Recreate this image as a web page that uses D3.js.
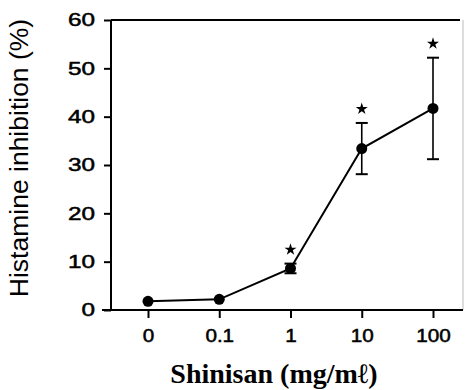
<!DOCTYPE html>
<html>
<head>
<meta charset="utf-8">
<script src="https://cdn.jsdelivr.net/npm/d3@7"></script>
<style>
  body { margin: 0; background: #fff; }
  svg { display: block; }
</style>
</head>
<body>
<div id="chart"></div>
<script>
// dose levels (mg/ml) and histamine inhibition (%)
let doses = ["0", "0.1", "1", "10", "100"];
let means = [1.8, 2.2, 8.6, 33.4, 41.7];
let errs = [0, 0, 1.0, 5.3, 10.5];
let signif = [false, false, true, true, true];
let yTicks = [0, 10, 20, 30, 40, 50, 60];

let width = 466, height = 390;
let plotLeft = 111, plotRight = 463, plotTop = 20, plotBottom = 310;

let data = doses.map((d, i) => ({dose: d, mean: means[i], err: errs[i], sig: signif[i]}));

let svg = d3.select("#chart")
    .append("svg")
    .attr("width", width)
    .attr("height", height);

let x = d3.scalePoint().domain(doses).range([148, 433]);
let y = d3.scaleLinear().domain([0, 60]).range([plotBottom, plotTop]);

// frame: top line and faint right edge
svg.append("line")
    .attr("x1", plotLeft).attr("x2", plotRight - 3)
    .attr("y1", plotTop).attr("y2", plotTop)
    .attr("stroke", "#000").attr("stroke-width", 2);
svg.append("line")
    .attr("x1", plotRight).attr("x2", plotRight)
    .attr("y1", plotTop).attr("y2", plotBottom)
    .attr("stroke", "#bbb").attr("stroke-width", 1);

// y axis
let yAxis = svg.append("g")
    .attr("transform", `translate(${plotLeft},0)`)
    .call(d3.axisLeft(y).tickValues(yTicks).tickSize(7).tickPadding(9));
yAxis.select(".domain").remove();
svg.append("line")
    .attr("x1", plotLeft).attr("x2", plotLeft)
    .attr("y1", plotTop).attr("y2", plotBottom)
    .attr("stroke", "#000").attr("stroke-width", 2);
yAxis.selectAll(".tick line").attr("stroke-width", 2);
yAxis.selectAll(".tick text")
    .attr("font-family", "Liberation Sans, Arial, sans-serif")
    .attr("font-size", 18)
    .attr("fill", "#000")
    .attr("stroke", "#000")
    .attr("stroke-width", 0.5)
    .attr("text-anchor", "end")
    .attr("transform", function() {
        let tx = -16;
        return `translate(${tx},0) scale(1.35,1) translate(${-tx},0)`;
    });

// x axis
let xAxis = svg.append("g")
    .attr("transform", `translate(0,${plotBottom})`)
    .call(d3.axisBottom(x).tickSize(8).tickPadding(11));
xAxis.select(".domain").remove();
svg.append("line")
    .attr("x1", 102).attr("x2", plotRight)
    .attr("y1", plotBottom).attr("y2", plotBottom)
    .attr("stroke", "#000").attr("stroke-width", 2);
xAxis.selectAll(".tick line").attr("stroke-width", 2);
xAxis.selectAll(".tick text")
    .attr("font-family", "Liberation Sans, Arial, sans-serif")
    .attr("font-size", 18)
    .attr("fill", "#000")
    .attr("stroke", "#000")
    .attr("stroke-width", 0.5)
    .attr("transform", "scale(1.15,1)");

// error bars
let eb = svg.append("g").selectAll("g")
    .data(data.filter(d => d.err > 0))
    .enter().append("g");
eb.append("line")
    .attr("x1", d => x(d.dose)).attr("x2", d => x(d.dose))
    .attr("y1", d => y(d.mean - d.err)).attr("y2", d => y(d.mean + d.err))
    .attr("stroke", "#000").attr("stroke-width", 1.6);
eb.append("line")
    .attr("x1", d => x(d.dose) - 6).attr("x2", d => x(d.dose) + 6)
    .attr("y1", d => y(d.mean + d.err)).attr("y2", d => y(d.mean + d.err))
    .attr("stroke", "#000").attr("stroke-width", 2);
eb.append("line")
    .attr("x1", d => x(d.dose) - 6).attr("x2", d => x(d.dose) + 6)
    .attr("y1", d => y(d.mean - d.err)).attr("y2", d => y(d.mean - d.err))
    .attr("stroke", "#000").attr("stroke-width", 2);

// line
svg.append("path")
    .datum(data)
    .attr("fill", "none")
    .attr("stroke", "#000")
    .attr("stroke-width", 2)
    .attr("d", d3.line().x(d => x(d.dose)).y(d => y(d.mean)));

// points
svg.append("g").selectAll("circle")
    .data(data)
    .enter().append("circle")
    .attr("cx", d => x(d.dose))
    .attr("cy", d => y(d.mean))
    .attr("r", 5.5)
    .attr("fill", "#000");

// significance stars
svg.append("g").selectAll("path")
    .data(data.filter(d => d.sig))
    .enter().append("path")
    .attr("d", d3.symbol().type(d3.symbolStar).size(45))
    .attr("transform", d => `translate(${x(d.dose)},${y(d.mean + d.err) - 14})`)
    .attr("fill", "#000");

// axis titles
svg.append("text")
    .attr("transform", `translate(28,158) rotate(-90)`)
    .attr("text-anchor", "middle")
    .attr("font-family", "Liberation Sans, Arial, sans-serif")
    .attr("font-size", 26.5)
    .text("Histamine inhibition (%)");

svg.append("text")
    .attr("x", 274)
    .attr("y", 383)
    .attr("text-anchor", "middle")
    .attr("font-family", "Liberation Serif, Times New Roman, serif")
    .attr("font-size", 28)
    .attr("font-weight", "bold")
    .text("Shinisan (mg/mℓ)");
</script>
</body>
</html>
